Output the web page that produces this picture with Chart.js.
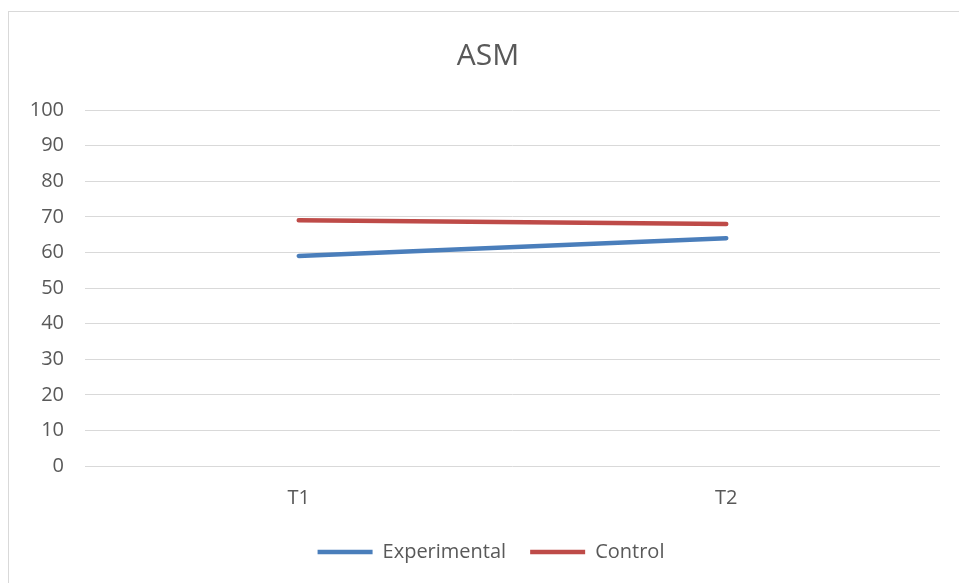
<!DOCTYPE html>
<html>
<head>
<meta charset="utf-8">
<script src="https://cdn.jsdelivr.net/npm/chart.js@4"></script>
<style>
    body { margin: 0; background: #fff; overflow: hidden; }
    #frame {
        position: absolute;
        left: 8px;
        top: 11px;
        width: 960px;
        height: 590px;
        border: 1px solid #d9d9d9;
        background: #fff;
    }
    #chartBox { position: relative; width: 950px; height: 572px; }
</style>
</head>
<body>
<div id="frame">
    <div id="chartBox"><canvas id="lineChart"></canvas></div>
</div>
<script>
const categories = ['T1', 'T2'];
const experimental = [59, 64];
const control = [69, 68];
const yTicks = [0, 10, 20, 30, 40, 50, 60, 70, 80, 90, 100];

const fontFamily = "'Open Sans', 'Noto Sans', sans-serif";
const textColor = '#595959';

// title and legend in the original sit a bit right of the canvas centre
const boxShift = {
    id: 'boxShift',
    afterLayout(chart) {
        if (chart.legend) {
            chart.legend.left += 33;
        }
        if (chart.titleBlock) {
            chart.titleBlock.left += 27;
        }
    }
};

document.addEventListener('DOMContentLoaded', function () {
    const ctx = document.getElementById('lineChart').getContext('2d');
    new Chart(ctx, {
        type: 'line',
        data: {
            labels: categories,
            datasets: [{
                label: 'Experimental',
                data: experimental,
                borderColor: '#4a7ebb',
                backgroundColor: '#4a7ebb',
                borderWidth: 4.5,
                borderCapStyle: 'round',
                pointRadius: 0,
                tension: 0
            }, {
                label: 'Control',
                data: control,
                borderColor: '#be4b48',
                backgroundColor: '#be4b48',
                borderWidth: 4.5,
                borderCapStyle: 'round',
                pointRadius: 0,
                tension: 0
            }]
        },
        options: {
            responsive: true,
            maintainAspectRatio: false,
            animation: false,
            layout: { padding: { left: 0, right: 19, top: 0, bottom: 12 } },
            plugins: {
                title: {
                    display: true,
                    text: 'ASM',
                    color: textColor,
                    font: { family: fontFamily, size: 30, weight: 'normal' },
                    padding: { top: 26, bottom: 36 }
                },
                legend: {
                    position: 'bottom',
                    labels: {
                        usePointStyle: true,
                        pointStyle: 'line',
                        pointStyleWidth: 55,
                        color: textColor,
                        font: { family: fontFamily, size: 20 },
                        padding: 24
                    }
                },
                tooltip: { enabled: false }
            },
            scales: {
                x: {
                    offset: true,
                    grid: { display: false, drawTicks: false },
                    border: { display: false },
                    ticks: {
                        color: textColor,
                        font: { family: fontFamily, size: 20 },
                        padding: 20
                    },
                    afterFit: function (scale) { scale.height = 52; }
                },
                y: {
                    min: 0,
                    max: 100,
                    afterBuildTicks: function (scale) {
                        scale.ticks = yTicks.map(v => ({ value: v }));
                    },
                    grid: { color: '#d9d9d9', lineWidth: 1, drawTicks: false },
                    border: { display: false },
                    ticks: {
                        color: textColor,
                        font: { family: fontFamily, size: 20 },
                        padding: 21
                    },
                    afterFit: function (scale) { scale.width = 76; }
                }
            }
        },
        plugins: [boxShift]
    });
});
</script>
</body>
</html>
